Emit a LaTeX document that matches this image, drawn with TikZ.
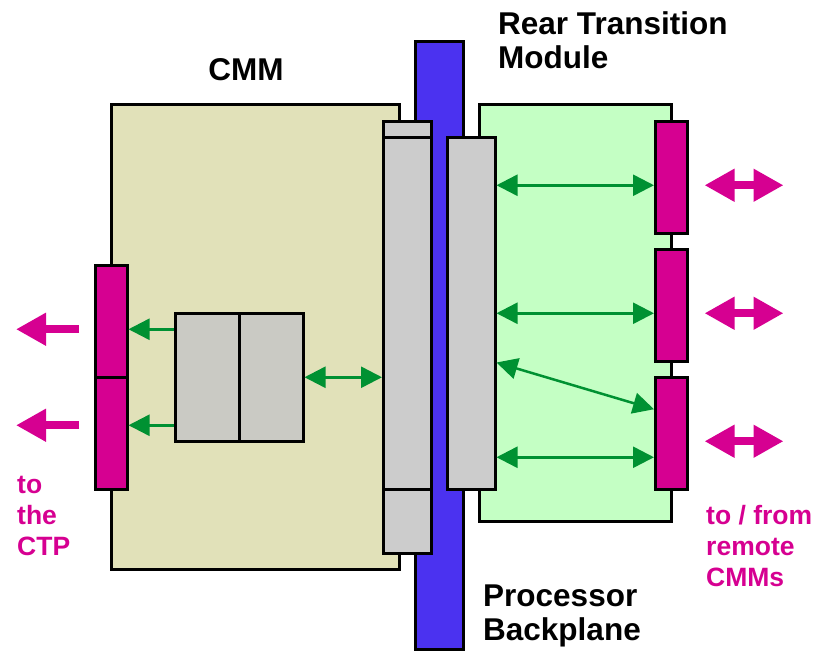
\documentclass[tikz,border=0pt]{standalone}
\usepackage{fontspec}
\setmainfont{Liberation Sans}
\usetikzlibrary{positioning,arrows.meta,calc}
\definecolor{cmmfill}{RGB}{225,225,185}
\definecolor{rtmfill}{RGB}{196,255,196}
\definecolor{bpblue}{RGB}{75,50,240}
\definecolor{conngray}{RGB}{204,204,204}
\definecolor{chipgray}{RGB}{202,202,196}
\definecolor{lnkmag}{RGB}{214,0,145}
\definecolor{sigreen}{RGB}{0,145,50}

\begin{document}
\begin{tikzpicture}[
  x=1pt, y=-1pt,
  box/.style={draw=black, line width=2.5pt, inner sep=0pt, anchor=north west},
  sz/.style 2 args={minimum width=#1, minimum height=#2},
  conn/.style={box, fill=conngray},
  link/.style={box, fill=lnkmag, sz={32}{112}},
  gtip/.style={-{Triangle[length=21pt, width=21pt]}, line width=2.5pt, sigreen},
  gboth/.style={{Triangle[length=21pt, width=21pt]}-{Triangle[length=21pt, width=21pt]}, line width=2.5pt, sigreen},
  mtip/.style={-{Triangle[length=30pt, width=31pt]}, line width=8pt, lnkmag},
  mboth/.style={{Triangle[length=30pt, width=31pt]}-{Triangle[length=30pt, width=31pt]}, line width=8pt, lnkmag},
  lbl/.style={font=\fontsize{31.5}{34}\selectfont\bfseries, align=left, inner sep=0pt},
  mlbl/.style={font=\fontsize{26.5}{31}\selectfont\bfseries, text=lnkmag, align=left, inner sep=0pt}
]
\useasboundingbox (0,0) rectangle (814,653);
% ----- boards and backplane -----
\node[box, fill=cmmfill, sz={288}{465}] (cmm) at (110,103) {};
\node[box, fill=rtmfill, sz={192}{417}] (rtm) at (478,103) {};
\node[box, fill=bpblue, sz={48}{608}]   (bp)  at (414,40)  {};
% ----- backplane connectors -----
\node[conn, sz={48}{16}]  (cmmcA) at (382,120) {};
\node[conn, sz={48}{352}] (cmmc)  at (382,136) {};
\node[conn, sz={48}{64}]  (cmmcB) at (382,488) {};
\node[conn, sz={48}{352}] (rtmc)  at (446,136) {};
% ----- chip on the CMM -----
\node[box, fill=chipgray, sz={64}{128}] (chipA) at (174,312) {};
\node[box, fill=chipgray, sz={64}{128}] (chipB) at (238,312) {};
% ----- front links (CTP) and rear links (remote CMMs) -----
\node[link] (ctpA) at (94,264)  {};
\node[link] (ctpB) at (94,376)  {};
\node[link] (remA) at (654,120) {};
\node[link] (remB) at (654,248) {};
\node[link] (remC) at (654,376) {};
% ----- signal levels -----
\coordinate (yL1) at ([yshift=-8pt]ctpA.center);
\coordinate (yL2) at ([yshift=8pt]ctpB.center);
\coordinate (yR1) at ([yshift=-8pt]remA.center);
\coordinate (yR2) at ([yshift=-8pt]remB.center);
\coordinate (yR3) at ([yshift=-8pt]remC.center);
\coordinate (yR4) at ([yshift=-24pt]remC.center);
\coordinate (yR5) at ([yshift=24pt]remC.center);
% ----- green signal arrows -----
\foreach \y in {yL1, yL2}{\draw[gtip] (chipA.west |- \y) -- (ctpA.east |- \y);}
\draw[gboth] (chipB.east) -- (cmmc.west |- chipB.east);
\draw[gboth] (rtmc.east |- yR1) -- (remA.west |- yR1);
\draw[gboth] (rtmc.east |- yR2) -- (remB.west |- yR2);
\draw[gboth] (rtmc.east |- remB.south) -- (remC.west |- yR5);
\draw[gboth] (rtmc.east |- yR4) -- (remC.west |- yR4);
% ----- magenta external arrows -----
\foreach \c/\y in {ctpA/yL1, ctpB/yL2}{\draw[mtip] ([xshift=-15pt]\c.west |- \y) -- ([xshift=-78pt]\c.west |- \y);}
\foreach \r/\y in {remA/yR1, remB/yR2, remC/yR3}{\draw[mboth] ([xshift=16pt]\r.east |- \y) -- ([xshift=95pt]\r.east |- \y);}
% ----- labels -----
\node[lbl, anchor=base]       (cmmlbl) at (246,80)  {CMM};
\node[lbl, anchor=north west] (rtmlbl) at (498,11)  {Rear Transition\\Module};
\node[lbl, anchor=north west] (bplbl)  at (483,585) {Processor\\Backplane};
\node[mlbl, anchor=north west] (ctplbl) at (17,476)  {to\\the\\CTP};
\node[mlbl, anchor=north west] (remlbl) at (706,505) {to / from\\remote\\CMMs};
\end{tikzpicture}
\end{document}
